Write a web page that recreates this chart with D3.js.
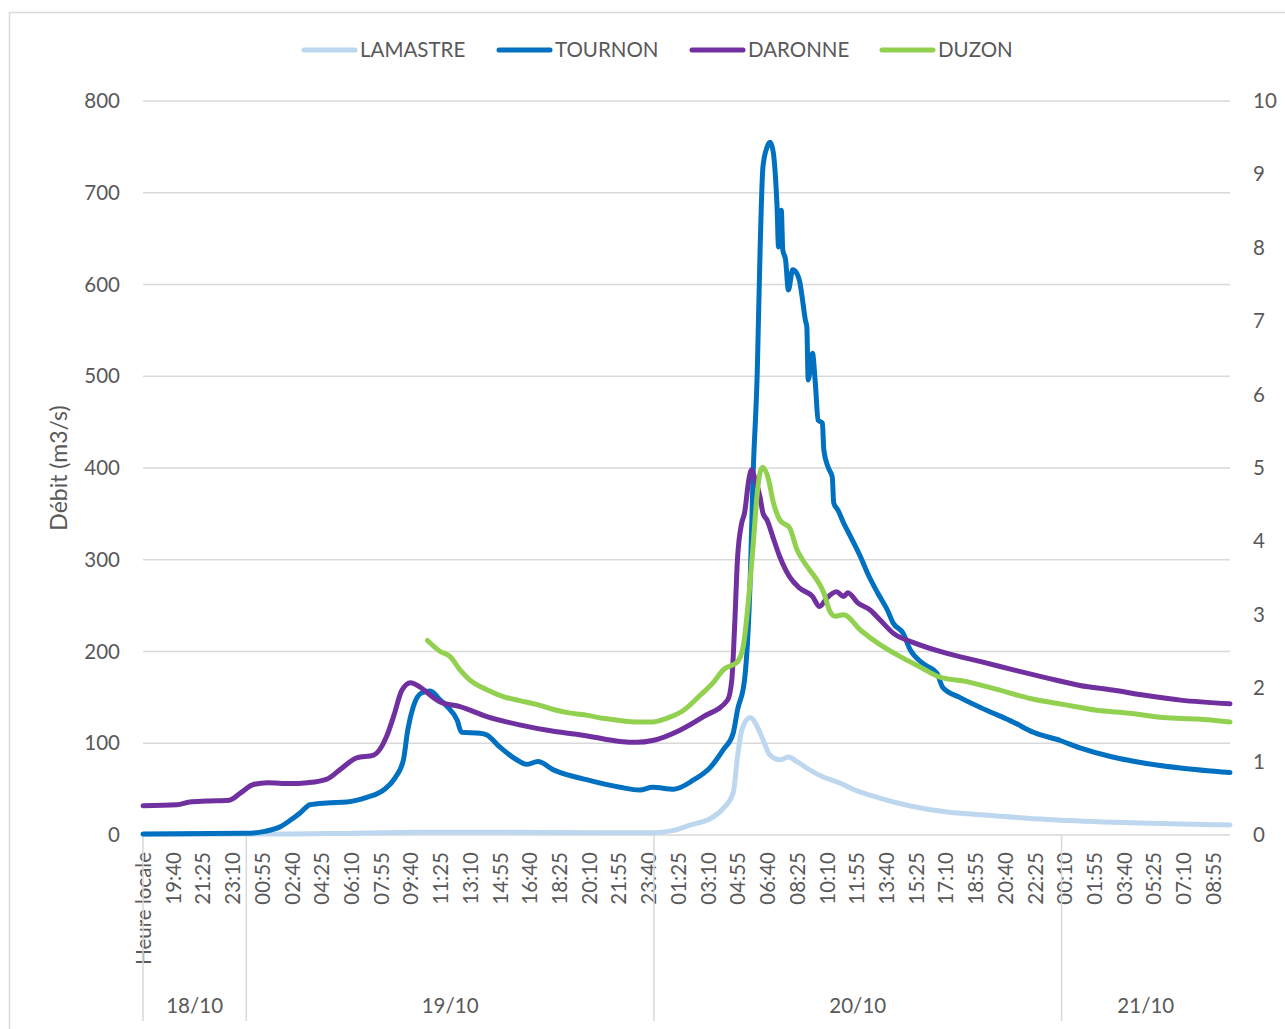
<!DOCTYPE html>
<html>
<head>
<meta charset="utf-8">
<script src="https://cdn.jsdelivr.net/npm/d3@7"></script>
<style>
  body { margin: 0; background: #fff; }
  text { font-family: Lato, "Open Sans", sans-serif; fill: #595959; }
</style>
</head>
<body>
<svg id="chart"></svg>
<script>
// series, time as "day/month hh:mm"
var lamastreTime = ["18/10 17:55","18/10 23:55","19/10 04:55","19/10 10:15","19/10 14:55","19/10 20:50","19/10 23:55","20/10 01:10","20/10 02:10","20/10 03:20","20/10 04:05","20/10 04:40","20/10 04:55","20/10 05:10","20/10 05:40","20/10 06:05","20/10 06:25","20/10 06:50","20/10 07:25","20/10 07:55","20/10 08:25","20/10 09:10","20/10 10:00","20/10 10:55","20/10 11:35","20/10 13:20","20/10 15:15","20/10 17:15","20/10 19:15","20/10 23:10","21/10 03:00","21/10 07:00","21/10 09:55"];
var lamastreValues = [0.5,1,1.5,3,3,2.5,2.5,5,11,18,29,46,85,114,128,118,104,87,82,85,80,71,63,57,51,40,31,25,22,17,14,12,11];

var tournonTime = ["18/10 17:55","18/10 23:55","19/10 00:15","19/10 01:05","19/10 02:00","19/10 02:35","19/10 03:10","19/10 03:45","19/10 04:45","19/10 05:55","19/10 07:05","19/10 08:05","19/10 08:45","19/10 09:15","19/10 09:30","19/10 09:50","19/10 10:20","19/10 10:50","19/10 11:25","19/10 11:50","19/10 12:25","19/10 12:40","19/10 13:45","19/10 14:10","19/10 14:55","19/10 15:55","19/10 16:30","19/10 17:10","19/10 18:05","19/10 20:05","19/10 22:00","19/10 23:10","19/10 23:55","20/10 01:10","20/10 02:20","20/10 03:20","20/10 04:05","20/10 04:40","20/10 04:55","20/10 05:20","20/10 05:40","20/10 05:50","20/10 06:05","20/10 06:15","20/10 06:25","20/10 06:40","20/10 06:50","20/10 07:00","20/10 07:10","20/10 07:15","20/10 07:20","20/10 07:30","20/10 07:35","20/10 07:45","20/10 07:55","20/10 08:10","20/10 08:25","20/10 08:35","20/10 08:45","20/10 08:55","20/10 09:00","20/10 09:05","20/10 09:20","20/10 09:30","20/10 09:40","20/10 09:55","20/10 10:00","20/10 10:15","20/10 10:30","20/10 10:35","20/10 10:50","20/10 11:10","20/10 11:35","20/10 12:10","20/10 12:35","20/10 13:10","20/10 13:45","20/10 14:05","20/10 14:40","20/10 15:05","20/10 15:50","20/10 16:40","20/10 17:00","20/10 18:00","20/10 19:35","20/10 21:10","20/10 22:20","20/10 23:55","21/10 01:05","21/10 03:00","21/10 05:00","21/10 07:00","21/10 09:55"];
var tournonValues = [1,2,2,4,9,16,24,33,35,36,41,49,62,82,114,140,155,157,147,140,125,112,111,109,96,82,77,80,71,60,52,49,52,50,60,74,93,111,136,169,278,390,505,638,728,750,755,747,714,684,641,681,638,627,594,616,612,603,583,561,554,496,525,493,452,449,420,401,390,362,354,340,325,303,285,264,245,231,220,202,187,176,161,150,136,123,112,103,95,85,78,73,68];

var daronneTime = ["18/10 17:55","18/10 19:55","18/10 20:40","18/10 21:40","18/10 23:00","18/10 23:40","19/10 00:25","19/10 01:15","19/10 02:35","19/10 03:35","19/10 04:45","19/10 05:30","19/10 06:30","19/10 07:30","19/10 08:15","19/10 08:40","19/10 09:10","19/10 09:40","19/10 10:15","19/10 11:00","19/10 11:25","19/10 12:35","19/10 14:10","19/10 16:05","19/10 18:05","19/10 20:05","19/10 22:00","19/10 23:00","19/10 23:55","20/10 01:30","20/10 02:55","20/10 04:20","20/10 04:35","20/10 04:45","20/10 04:55","20/10 05:10","20/10 05:20","20/10 05:35","20/10 05:45","20/10 05:55","20/10 06:15","20/10 06:25","20/10 06:40","20/10 07:00","20/10 07:25","20/10 08:00","20/10 08:35","20/10 09:20","20/10 09:45","20/10 10:10","20/10 10:45","20/10 11:10","20/10 11:25","20/10 12:00","20/10 12:45","20/10 13:20","20/10 14:05","20/10 15:15","20/10 17:15","20/10 19:15","20/10 21:10","20/10 23:10","21/10 01:05","21/10 03:00","21/10 05:00","21/10 07:00","21/10 09:55"];
var daronneValues = [32,33,36,37,38,46,55,57,56,57,61,71,84,87,107,129,158,166,161,150,145,140,129,120,113,108,102,101,103,114,129,147,169,227,300,340,351,387,398,390,368,351,343,325,303,281,269,260,249,258,265,260,264,253,245,234,220,210,198,189,180,171,163,158,152,147,143];

// DUZON is read on the right-hand axis
var duzonTime = ["19/10 10:40","19/10 11:25","19/10 12:00","19/10 12:35","19/10 13:10","19/10 14:10","19/10 15:05","19/10 16:05","19/10 17:05","19/10 18:05","19/10 19:05","19/10 20:05","19/10 21:00","19/10 22:00","19/10 23:00","19/10 23:55","20/10 00:45","20/10 01:45","20/10 02:45","20/10 03:30","20/10 04:05","20/10 04:55","20/10 05:15","20/10 05:35","20/10 05:50","20/10 06:05","20/10 06:15","20/10 06:25","20/10 06:45","20/10 07:00","20/10 07:25","20/10 08:00","20/10 08:25","20/10 08:45","20/10 09:10","20/10 09:35","20/10 10:00","20/10 10:20","20/10 10:40","20/10 11:10","20/10 12:10","20/10 13:20","20/10 14:30","20/10 15:40","20/10 16:50","20/10 18:25","20/10 20:15","20/10 22:10","21/10 00:05","21/10 02:05","21/10 04:00","21/10 06:00","21/10 08:00","21/10 09:55"];
var duzonValues = [2.65,2.5,2.43,2.25,2.11,1.98,1.89,1.83,1.78,1.71,1.66,1.63,1.59,1.56,1.54,1.54,1.59,1.70,1.91,2.08,2.25,2.36,2.56,3.24,3.93,4.66,4.94,5.01,4.84,4.56,4.29,4.18,3.89,3.75,3.61,3.48,3.30,3.06,2.98,3.00,2.79,2.59,2.43,2.29,2.15,2.09,1.98,1.86,1.78,1.70,1.66,1.60,1.58,1.54];

var seriesNames = ["LAMASTRE","TOURNON","DARONNE","DUZON"];
var seriesColors = ["#BDD7EE","#0070C0","#7030A0","#92D050"];
var leftTicks = [0,100,200,300,400,500,600,700,800];
var rightTicks = [0,1,2,3,4,5,6,7,8,9,10];
var dayLabels = ["18/10","19/10","20/10","21/10"];
var dayStarts = ["18/10 00:00","19/10 00:00","20/10 00:00","21/10 00:00","22/10 00:00"];
var firstTick = "18/10 17:55";
var lastTime = "21/10 09:55";
var tickStepMinutes = 105;

var parse = d3.timeParse("%d/%m %H:%M");
var fmt = d3.timeFormat("%H:%M");

var W = 1285, H = 1029;
var margin = { top: 101, right: 55, bottom: 194, left: 143 };
var width = W - margin.left - margin.right;
var height = H - margin.top - margin.bottom;
var fontSize = "20.5px";

var svg = d3.select("#chart").attr("width", W).attr("height", H);

// chart border
svg.append("rect")
    .attr("x", 9.5).attr("y", 12.5)
    .attr("width", 1300).attr("height", 1040)
    .attr("fill", "none").attr("stroke", "#d9d9d9").attr("stroke-width", 1.5);

var g = svg.append("g").attr("transform", "translate(" + margin.left + "," + margin.top + ")");

var x = d3.scaleTime().domain([parse(firstTick), parse(lastTime)]).range([0, width]);
var y = d3.scaleLinear().domain([0, 800]).range([height, 0]);
var y2 = d3.scaleLinear().domain([0, 10]).range([height, 0]);

// gridlines
g.append("g")
    .selectAll("line").data(leftTicks).enter().append("line")
    .attr("x1", 0).attr("x2", width)
    .attr("y1", function(d) { return y(d) }).attr("y2", function(d) { return y(d) })
    .attr("stroke", "#d9d9d9").attr("stroke-width", 1.5);

// left axis
var ya = g.append("g")
    .call(d3.axisLeft(y).tickValues(leftTicks).tickSize(0).tickPadding(23));
ya.select(".domain").remove();
ya.selectAll("text").style("font-size", fontSize).style("font-family", "Lato").attr("fill", "#595959");

// right axis
var yb = g.append("g").attr("transform", "translate(" + width + ",0)")
    .call(d3.axisRight(y2).tickValues(rightTicks).tickSize(0).tickPadding(23));
yb.select(".domain").remove();
yb.selectAll("text").style("font-size", fontSize).style("font-family", "Lato").attr("fill", "#595959");

// y title
svg.append("text")
    .attr("transform", "translate(67," + (margin.top + height / 2) + ") rotate(-90)")
    .attr("text-anchor", "middle")
    .style("font-size", "23px")
    .text("Débit (m3/s)");

// time ticks every 105 minutes
var tickTimes = [];
var t0 = parse(firstTick);
for (var i = 0; d3.timeMinute.offset(t0, i * tickStepMinutes) <= parse(lastTime); i++) {
  tickTimes.push(d3.timeMinute.offset(t0, i * tickStepMinutes));
}

var xa = g.append("g").attr("transform", "translate(0," + height + ")")
    .call(d3.axisBottom(x).tickValues(tickTimes).tickSize(0)
      .tickFormat(function(d, i) { return i === 0 ? "Heure locale" : fmt(d) }));
xa.select(".domain").remove();
xa.selectAll("text")
    .attr("transform", "rotate(-90)")
    .attr("text-anchor", "end")
    .attr("x", -17).attr("y", 0).attr("dy", "0.36em")
    .style("font-size", fontSize).style("font-family", "Lato").attr("fill", "#595959");

// day separators and labels
var dayEdges = dayStarts.map(function(s) {
  var t = parse(s);
  return Math.max(0, Math.min(width, x(t)));
});
g.append("g").selectAll("line").data(dayEdges.slice(0, 4)).enter().append("line")
    .attr("x1", function(d) { return d }).attr("x2", function(d) { return d })
    .attr("y1", height).attr("y2", height + 186)
    .attr("stroke", "#d9d9d9").attr("stroke-width", 1.5);
g.append("g").selectAll("text").data(dayLabels).enter().append("text")
    .attr("x", function(d, i) { return (dayEdges[i] + dayEdges[i + 1]) / 2 })
    .attr("y", height + 178)
    .attr("text-anchor", "middle")
    .style("font-size", fontSize)
    .text(function(d) { return d });

// lines
var seriesData = [
  { time: lamastreTime, values: lamastreValues, scale: y },
  { time: tournonTime, values: tournonValues, scale: y },
  { time: daronneTime, values: daronneValues, scale: y },
  { time: duzonTime, values: duzonValues, scale: y2 }
];

seriesData.forEach(function(s, k) {
  var pts = s.time.map(function(t, i) { return { date: parse(t), value: s.values[i] } });
  var line = d3.line()
      .x(function(d) { return x(d.date) })
      .y(function(d) { return s.scale(d.value) })
      .curve(d3.curveMonotoneX);
  g.append("path")
      .datum(pts)
      .attr("fill", "none")
      .attr("stroke", seriesColors[k])
      .attr("stroke-width", 5)
      .attr("stroke-linejoin", "round")
      .attr("stroke-linecap", "round")
      .attr("d", line);
});

// legend
var legendX = [302, 497, 690, 880];
var lg = svg.append("g");
seriesNames.forEach(function(n, k) {
  lg.append("line")
      .attr("x1", legendX[k] + 2).attr("x2", legendX[k] + 53)
      .attr("y1", 50).attr("y2", 50)
      .attr("stroke", seriesColors[k]).attr("stroke-width", 5)
      .attr("stroke-linecap", "round");
  lg.append("text")
      .attr("x", legendX[k] + 58).attr("y", 50).attr("dy", "0.35em")
      .style("font-size", fontSize)
      .text(n);
});
</script>
</body>
</html>
